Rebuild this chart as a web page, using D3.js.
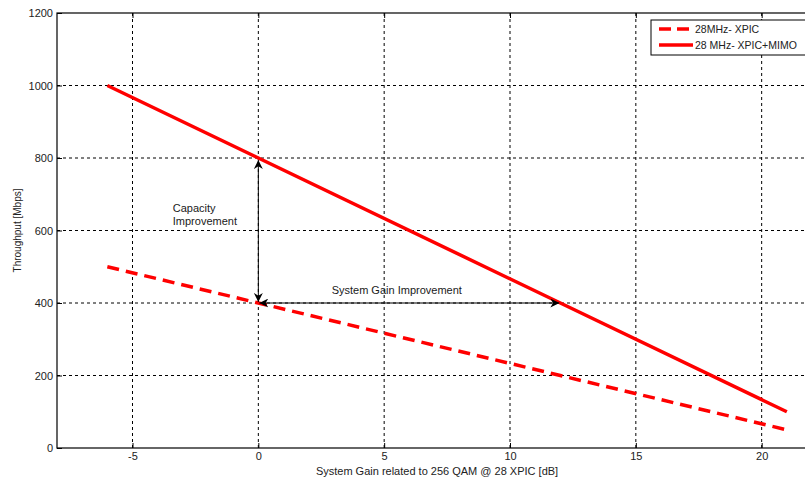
<!DOCTYPE html>
<html>
<head>
<meta charset="utf-8">
<script src="https://cdn.jsdelivr.net/npm/d3@7"></script>
<style>
  body { margin: 0; background: #fff; }
  svg { font-family: "Liberation Sans", Arial, sans-serif; }
</style>
</head>
<body>
<script>
// data
var gainX = [-6, 0, 12, 21];
var xpic = [500, 400, 200, 50];
var xpicMimo = [1000, 800, 400, 100];
var xTicks = [-5, 0, 5, 10, 15, 20];
var yTicks = [0, 200, 400, 600, 800, 1000, 1200];
var seriesNames = ["28MHz- XPIC", "28 MHz- XPIC+MIMO"];

var width = 805, height = 482;
var margin = { left: 57, top: 13, right: -7, bottom: 34 };

var svg = d3.select("body")
  .append("svg")
  .attr("width", width)
  .attr("height", height);

var x = d3.scaleLinear().domain([-8, 22]).range([margin.left, width - margin.right]);
var y = d3.scaleLinear().domain([0, 1200]).range([height - margin.bottom, margin.top]);

// grid
svg.append("g").selectAll("line")
  .data(xTicks)
  .enter().append("line")
  .attr("x1", d => x(d)).attr("x2", d => x(d))
  .attr("y1", y(0)).attr("y2", y(1200))
  .attr("stroke", "#000").attr("stroke-width", 1)
  .attr("stroke-dasharray", "3,3");

svg.append("g").selectAll("line")
  .data(yTicks.slice(1, -1))
  .enter().append("line")
  .attr("x1", x(-8)).attr("x2", x(22))
  .attr("y1", d => y(d)).attr("y2", d => y(d))
  .attr("stroke", "#000").attr("stroke-width", 1)
  .attr("stroke-dasharray", "3,3");

// axes box
svg.append("rect")
  .attr("x", x(-8)).attr("y", y(1200))
  .attr("width", x(22) - x(-8)).attr("height", y(0) - y(1200))
  .attr("fill", "none").attr("stroke", "#000").attr("stroke-width", 1.2);

var fmt = d => String(d);

var xAxis = svg.append("g")
  .attr("transform", "translate(0," + y(0) + ")")
  .call(d3.axisBottom(x).tickValues(xTicks).tickFormat(fmt).tickSizeInner(-5).tickSizeOuter(0).tickPadding(4));
var xAxisTop = svg.append("g")
  .attr("transform", "translate(0," + y(1200) + ")")
  .call(d3.axisTop(x).tickValues(xTicks).tickSizeInner(-5).tickSizeOuter(0).tickFormat(""));
var yAxis = svg.append("g")
  .attr("transform", "translate(" + x(-8) + ",0)")
  .call(d3.axisLeft(y).tickValues(yTicks).tickFormat(fmt).tickSizeInner(-5).tickSizeOuter(0).tickPadding(4));

[xAxis, xAxisTop, yAxis].forEach(function(a) {
  a.select(".domain").remove();
  a.selectAll("line").attr("stroke", "#000");
  a.selectAll("text").attr("font-size", 11).attr("fill", "#222")
    .attr("font-family", "Liberation Sans, Arial, sans-serif");
});

// series
var line = d3.line()
  .x((d, i) => x(gainX[i]))
  .y(d => y(d));

svg.append("path")
  .datum(xpic)
  .attr("d", line)
  .attr("fill", "none")
  .attr("stroke", "#ff0000")
  .attr("stroke-width", 3.5)
  .attr("stroke-dasharray", "12,7");

svg.append("path")
  .datum(xpicMimo)
  .attr("d", line)
  .attr("fill", "none")
  .attr("stroke", "#ff0000")
  .attr("stroke-width", 3.5);

// annotations
var defs = svg.append("defs");
defs.append("marker")
  .attr("id", "arr")
  .attr("viewBox", "0 0 10 10")
  .attr("refX", 10).attr("refY", 5)
  .attr("markerWidth", 9).attr("markerHeight", 9)
  .attr("markerUnits", "userSpaceOnUse")
  .attr("orient", "auto-start-reverse")
  .append("path")
  .attr("d", "M0,0 L10,5 L0,10 L3,5 Z")
  .attr("fill", "#000");

svg.append("line")
  .attr("x1", x(0)).attr("x2", x(0))
  .attr("y1", y(800) + 2).attr("y2", y(400) - 1)
  .attr("stroke", "#000").attr("stroke-width", 1)
  .attr("marker-start", "url(#arr)")
  .attr("marker-end", "url(#arr)");

svg.append("line")
  .attr("x1", x(0) + 1).attr("x2", x(12) - 1)
  .attr("y1", y(400)).attr("y2", y(400))
  .attr("stroke", "#000").attr("stroke-width", 1.2)
  .attr("marker-start", "url(#arr)")
  .attr("marker-end", "url(#arr)");

var cap = svg.append("text")
  .attr("x", x(-3.4)).attr("y", y(650))
  .attr("font-size", 11).attr("fill", "#1a1a1a");
cap.append("tspan").attr("x", x(-3.4)).text("Capacity");
cap.append("tspan").attr("x", x(-3.4)).attr("dy", 13).text("Improvement");

svg.append("text")
  .attr("x", x(5.5)).attr("y", y(425))
  .attr("text-anchor", "middle")
  .attr("font-size", 11).attr("fill", "#1a1a1a")
  .text("System Gain Improvement");

// axis labels
svg.append("text")
  .attr("transform", "translate(21," + y(600) + ") rotate(-90)")
  .attr("text-anchor", "middle")
  .attr("font-size", 10).attr("fill", "#222")
  .text("Throughput [Mbps]");

svg.append("text")
  .attr("x", x(7.1)).attr("y", 475)
  .attr("text-anchor", "middle")
  .attr("font-size", 11).attr("fill", "#222")
  .text("System Gain related to 256 QAM @ 28 XPIC [dB]");

// legend
var legend = svg.append("g").attr("transform", "translate(651,20)");
legend.append("rect")
  .attr("width", 170).attr("height", 35)
  .attr("fill", "#fff").attr("stroke", "#000").attr("stroke-width", 1);

var legendItems = legend.selectAll("g.item")
  .data(seriesNames)
  .enter().append("g")
  .attr("class", "item")
  .attr("transform", (d, i) => "translate(0," + (9 + i * 16) + ")");

legendItems.append("line")
  .attr("x1", 8).attr("x2", 42)
  .attr("stroke", "#ff0000").attr("stroke-width", 3.5)
  .attr("stroke-dasharray", (d, i) => i === 0 ? "12,6" : null);

legendItems.append("text")
  .attr("x", 44).attr("y", 4)
  .attr("font-size", 10.5).attr("fill", "#222")
  .text(d => d);
</script>
</body>
</html>
